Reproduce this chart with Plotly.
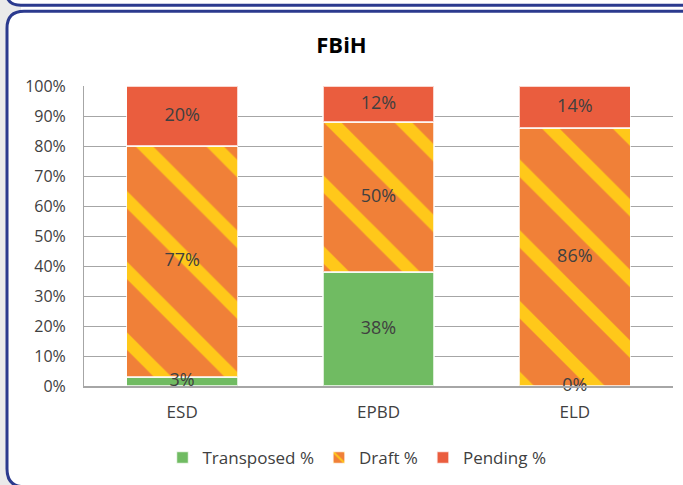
import plotly.graph_objects as go

categories = ["ESD", "EPBD", "ELD"]
transposed = [3, 38, 0]
draft = [77, 50, 86]
pending = [20, 12, 14]
series_names = ["Transposed %", "Draft %", "Pending %"]
y_ticks = [0, 10, 20, 30, 40, 50, 60, 70, 80, 90, 100]

W, H = 683, 485
ML, MR, MT, MB = 84, 10, 86, 98
PW, PH = W - ML - MR, H - MT - MB


def px(x):
    return (x - ML) / PW


def py(y):
    return 1 - (y - MT) / PH


FONT = "'Open Sans', sans-serif"
TXT = "#404040"
NAVY = "#2B3A8E"

fig = go.Figure()
line = dict(color="rgba(255,255,255,0.75)", width=1.5)
fig.add_trace(go.Bar(x=categories, y=transposed, name=series_names[0],
                     marker=dict(color="#70BB62", line=line)))
fig.add_trace(go.Bar(x=categories, y=draft, name=series_names[1],
                     marker=dict(color="#F07E37", line=line,
                                 pattern=dict(shape="\\", fgcolor="#FFC81A", bgcolor="#F08038",
                                              size=50, solidity=0.25, fillmode="replace"))))
fig.add_trace(go.Bar(x=categories, y=pending, name=series_names[2],
                     marker=dict(color="#EA5D3E", line=line)))

# data labels at segment centres
all_series = [transposed, draft, pending]
for i, vals in enumerate(all_series):
    bases = [sum(s[j] for s in all_series[:i]) for j in range(len(categories))]
    fig.add_trace(go.Scatter(x=categories, y=[b + v / 2 for b, v in zip(bases, vals)],
                             mode="text", text=[f"{v}%" for v in vals],
                             textfont=dict(family=FONT, size=18, color=TXT),
                             showlegend=False, hoverinfo="skip", cliponaxis=False))

top_frame = (f"M {px(6)},{py(-30)} L {px(6)},{py(-10)} Q {px(6)},{py(5)} {px(21)},{py(5)} "
             f"L {px(720)},{py(5)} L {px(720)},{py(-30)} Z")
main_frame = (f"M {px(7)},{py(470)} L {px(7)},{py(28)} Q {px(7)},{py(11)} {px(24)},{py(11)} "
              f"L {px(720)},{py(11)} L {px(720)},{py(488)} L {px(24)},{py(488)} "
              f"Q {px(7)},{py(488)} {px(7)},{py(470)} Z")
shapes = [
    dict(type="rect", xref="paper", yref="paper", x0=px(21), x1=px(720), y0=py(11), y1=py(5),
         fillcolor="white", line=dict(width=0), layer="below"),
    dict(type="path", xref="paper", yref="paper", path=top_frame, fillcolor="white",
         line=dict(color=NAVY, width=3), layer="below"),
    dict(type="path", xref="paper", yref="paper", path=main_frame, fillcolor="white",
         line=dict(color=NAVY, width=3), layer="below"),
]

fig.update_layout(
    width=W, height=H,
    margin=dict(l=ML, r=MR, t=MT, b=MB),
    barmode="stack", bargap=0.435,
    paper_bgcolor="#EAEAEA", plot_bgcolor="rgba(0,0,0,0)",
    font=dict(family=FONT, size=16, color=TXT),
    title=dict(text="<b>FBiH</b>", x=0.5, xanchor="center", y=1 - 45 / H, yanchor="middle",
               font=dict(family=FONT, size=22, color="black")),
    shapes=shapes,
    legend=dict(orientation="h", x=px(357), xanchor="center", y=py(458), yanchor="middle",
                font=dict(family=FONT, size=17, color=TXT), traceorder="normal",
                itemwidth=30, bgcolor="rgba(0,0,0,0)"),
    showlegend=True,
)
fig.update_xaxes(showline=True, linecolor="#A6A6A6", linewidth=1.5, ticks="",
                 ticklabelstandoff=10, tickfont=dict(family=FONT, size=17, color=TXT))
fig.update_yaxes(range=[0, 100], tickvals=y_ticks, ticktext=[f"{v}%" for v in y_ticks],
                 showgrid=True, gridcolor="#A6A6A6", gridwidth=1, zeroline=False,
                 showline=True, linecolor="#A6A6A6", linewidth=1, ticks="",
                 ticklabelstandoff=14, tickfont=dict(family=FONT, size=16, color=TXT))

fig.write_html("out.html", config={"displayModeBar": False},
               post_script="document.body.style.margin='0';")
